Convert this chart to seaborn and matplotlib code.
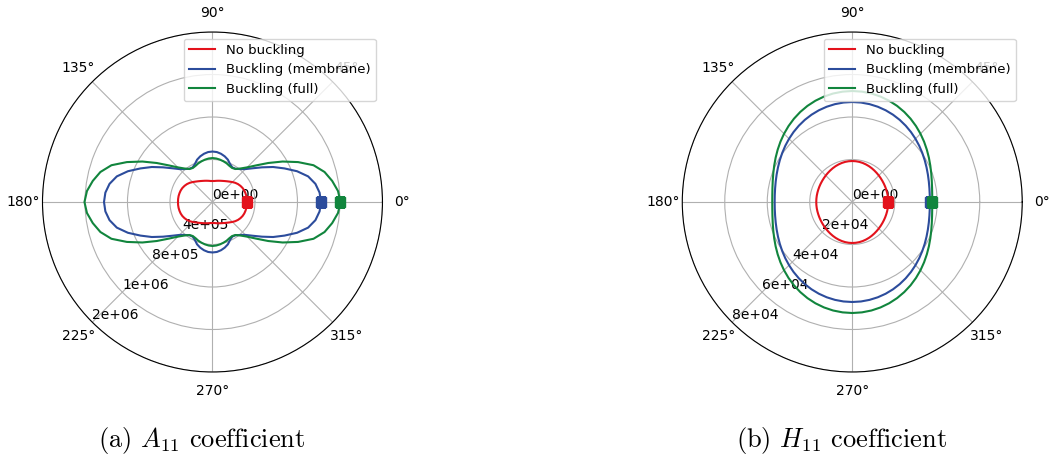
import matplotlib
matplotlib.use("Agg")
import matplotlib.pyplot as plt
import seaborn as sns
import numpy as np
from matplotlib.ticker import FormatStrFormatter

# values for the first quadrant (0..90 deg, every 5 deg),
# the curves are symmetric about both axes
labels = ["No buckling", "Buckling (membrane)", "Buckling (full)"]
colors = ["#e3121c", "#2c4c9c", "#11853d"]

A11_none = [324700, 324700, 323800, 321400, 318100, 312500, 304000, 293600, 280500, 265400,
            250400, 238100, 227800, 219300, 212700, 207100, 202400, 198600, 197600]
A11_memb = [1021000, 1012000, 984000, 932000, 847000, 748000, 659000, 569000, 494000, 438000,
            405000, 381000, 375000, 393000, 424000, 445000, 461000, 472000, 475000]
A11_full = [1205000, 1186000, 1144000, 1092000, 1012000, 889000, 762000, 640000, 536000, 461000,
            412000, 379000, 370000, 376000, 388000, 397000, 405000, 411000, 414000]

H11_none = [16940, 16950, 16960, 16980, 17020, 17090, 17180, 17300, 17460, 17650,
            17860, 18100, 18350, 18600, 18820, 19020, 19170, 19260, 19290]
H11_memb = [36520, 36610, 36870, 37300, 37870, 38570, 39370, 40240, 41150, 42070,
            42980, 43840, 44640, 45340, 45940, 46420, 46770, 46990, 47060]
H11_full = [37650, 37770, 38140, 38740, 39550, 40530, 41650, 42860, 44130, 45410,
            46660, 47850, 48940, 49910, 50720, 51370, 51850, 52140, 52240]

A11_ticks = [0, 4e5, 8e5, 1.2e6, 1.6e6]
H11_ticks = [0, 2e4, 4e4, 6e4, 8e4]


def full_circle(q):
    half = list(q) + list(q[-2::-1])
    r = np.array(half + half[1:])
    th = np.linspace(0, 2 * np.pi, len(r))
    return th, r


fig = plt.figure(figsize=(10.49, 4.70), dpi=100)
ax1 = fig.add_axes([0.0405, 0.2085, 0.3241, 0.7234], projection="polar")
ax2 = fig.add_axes([0.6504, 0.2085, 0.3241, 0.7234], projection="polar")

panels = [(ax1, [A11_none, A11_memb, A11_full], A11_ticks, "(a) $A_{11}$ coefficient"),
          (ax2, [H11_none, H11_memb, H11_full], H11_ticks, "(b) $H_{11}$ coefficient")]

for ax, curves, ticks, cap in panels:
    for q, lab, c in zip(curves, labels, colors):
        th, r = full_circle(q)
        sns.lineplot(x=th, y=r, ax=ax, color=c, label=lab, linewidth=1.5, sort=False)
    for q, c in zip(curves, colors):
        ax.plot([0], [q[0]], "s", color=c, markersize=6.5)
    ax.set_rlim(0, ticks[-1])
    ax.set_rticks(ticks)
    ax.yaxis.set_major_formatter(FormatStrFormatter("%.0e"))
    ax.set_rlabel_position(225)
    ax.set_xlabel("")
    ax.set_ylabel("")
    ax.tick_params(labelsize=10)
    ax.legend(loc="upper right", fontsize=9.5)
    bb = ax.get_position()
    fig.text(bb.x0 + bb.width / 2 - 0.01, 0.063, cap, ha="center", va="center",
             fontsize=19, family="cmr10", math_fontfamily="cm")

fig.savefig("out.png", dpi=100)
